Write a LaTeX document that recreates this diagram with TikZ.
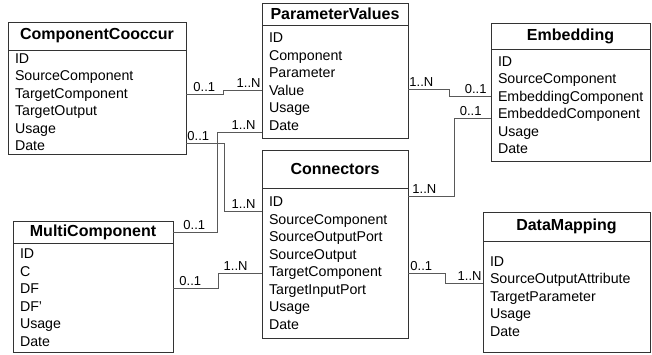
\documentclass[tikz,border=0pt]{standalone}
\usepackage{fontspec}
\setmainfont{Liberation Sans}
\usepackage{tikz}
\usetikzlibrary{positioning}

\begin{document}
\begin{tikzpicture}[x=1pt, y=-1pt,
            tabhead/.style={draw=black!80, line width=0.9pt, outer sep=0pt, inner sep=0pt, anchor=north west, font=\fontsize{16}{19}\selectfont\bfseries},
            tabbody/.style={draw=black!80, line width=0.9pt, outer sep=0pt, inner xsep=7pt, inner ysep=0pt, align=left, font=\fontsize{14.2}{17.5}\selectfont},
            link/.style={draw=black!65, line width=0.9pt},
            mult/.style={font=\fontsize{13}{15}\selectfont, inner xsep=1pt, inner ysep=2pt}]
            \useasboundingbox (0, 0) rectangle (652, 354);

            \node[tabhead, minimum width=178, minimum height=28] (ccT) at (8, 22) {ComponentCooccur};
            \node[tabbody, below=0pt of ccT, text width=164, minimum width=178, minimum height=104] (cc) {ID\\SourceComponent\\TargetComponent\\TargetOutput\\Usage\\Date};

            \node[tabhead, minimum width=146, minimum height=22] (pvT) at (262, 3) {ParameterValues};
            \node[tabbody, below=0pt of pvT, text width=132, minimum width=146, minimum height=113] (pv) {ID\\Component\\Parameter\\Value\\Usage\\Date};

            \node[tabhead, minimum width=159, minimum height=26] (emT) at (491, 23) {Embedding};
            \node[tabbody, below=0pt of emT, text width=145, minimum width=159, minimum height=112] (em) {ID\\SourceComponent\\EmbeddingComponent\\EmbeddedComponent\\Usage\\Date};

            \node[tabhead, minimum width=146, minimum height=38] (cnT) at (262, 150) {Connectors};
            \node[tabbody, below=0pt of cnT, text width=132, minimum width=146, minimum height=150] (cn) {ID\\SourceComponent\\SourceOutputPort\\SourceOutput\\TargetComponent\\TargetInputPort\\Usage\\Date};

            \node[tabhead, minimum width=160, minimum height=22] (mcT) at (13, 221) {MultiComponent};
            \node[tabbody, below=0pt of mcT, text width=146, minimum width=160, minimum height=109] (mc) {ID\\C\\DF\\DF'\\Usage\\Date};

            \node[tabhead, minimum width=167, minimum height=29] (dmT) at (483, 212) {DataMapping};
            \node[tabbody, below=0pt of dmT, text width=153, minimum width=167, minimum height=111] (dm) {ID\\SourceOutputAttribute\\TargetParameter\\Usage\\Date};

            \draw[link] (cc.east |- 0,94) node[mult, anchor=south west, xshift=6] {0..1} -- (223, 94) -- (223, 90) -- (pv.west |- 0,90) node[mult, anchor=south east] {1..N};
            \draw[link] (cc.east |- 0,143) node[mult, anchor=south west] {0..1} -- (224, 143) -- (224, 211) -- (cn.west |- 0,211) node[mult, anchor=south east, xshift=-5] {1..N};
            \draw[link] (pv.west |- 0,132) node[mult, anchor=south east, xshift=-5] {1..N} -- (217, 132) -- (217, 232) -- (mcT.east) node[mult, anchor=south west, xshift=9] {0..1};
            \draw[link] (mc.east |- 0,288) node[mult, anchor=south west, xshift=5] {0..1} -- (218, 288) -- (218, 273) -- (cn.west |- 0,273) node[mult, anchor=south east, xshift=-13] {1..N};
            \draw[link] (pv.east |- 0,89) node[mult, anchor=south west] {1..N} -- (449, 89) -- (449, 96) -- (em.west |- 0,96) node[mult, anchor=south east, xshift=-3] {0..1};
            \draw[link] (cn.east |- 0,196) node[mult, anchor=south west, xshift=3] {1..N} -- (454, 196) -- (454, 118) -- (em.west |- 0,118) node[mult, anchor=south east, xshift=-8] {0..1};
            \draw[link] (cn.east |- 0,273) node[mult, anchor=south west, xshift=1] {0..1} -- (445, 273) -- (445, 283) -- (dm.west |- 0,283) node[mult, anchor=south east] {1..N};
        \end{tikzpicture}
\end{document}
